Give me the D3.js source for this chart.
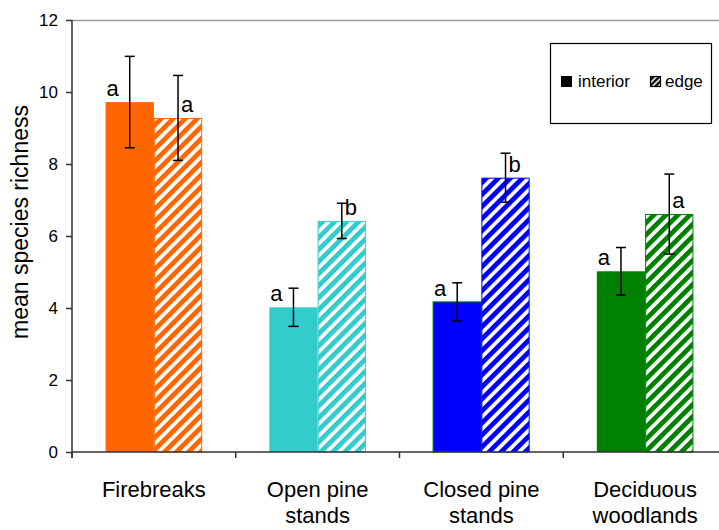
<!DOCTYPE html>
<html>
<head>
<meta charset="utf-8">
<script src="https://cdn.jsdelivr.net/npm/d3@7"></script>
<style>
  body { margin: 0; background: #fff; }
  text { font-family: "Liberation Sans", Arial, sans-serif; fill: #000; }
</style>
</head>
<body>
<svg id="chart" width="719" height="530"></svg>
<script>
// data
var categories = [["Firebreaks"], ["Open pine", "stands"], ["Closed pine", "stands"], ["Deciduous", "woodlands"]];
var colors = ["#ff6600", "#33cccc", "#0000ff", "#008000"];
var series = ["interior", "edge"];
var interiorMean = [9.72, 4.02, 4.17, 5.02];
var interiorErr = [1.27, 0.53, 0.53, 0.66];
var edgeMean = [9.28, 6.42, 7.62, 6.61];
var edgeErr = [1.18, 0.49, 0.68, 1.11];
var interiorLetters = ["a", "a", "a", "a"];
var edgeLetters = ["a", "b", "b", "a"];
var yTicks = [0, 2, 4, 6, 8, 10, 12];

var svg = d3.select("#chart"),
  margin = {top: 20, left: 72, bottom: 78, right: -8},
  width = +svg.attr("width") - margin.left - margin.right,
  height = +svg.attr("height") - margin.top - margin.bottom;

var x = d3.scaleBand()
  .domain(d3.range(categories.length))
  .range([margin.left, margin.left + width])
  .paddingInner(0).paddingOuter(0);

var groupW = x.bandwidth() * 0.59;
var x1 = d3.scaleBand()
  .domain(series)
  .range([0, groupW]);

var y = d3.scaleLinear()
  .domain([0, 12])
  .range([margin.top + height, margin.top]);

// hatch patterns, one per colour
var defs = svg.append("defs");
colors.forEach(function(c, i){
  var p = defs.append("pattern")
    .attr("id", "hatch" + i)
    .attr("patternUnits", "userSpaceOnUse")
    .attr("width", 8.5).attr("height", 8.5)
    .attr("patternTransform", "rotate(45)");
  p.append("rect").attr("width", 8.5).attr("height", 8.5).attr("fill", "#fff");
  p.append("rect").attr("width", 4.8).attr("height", 8.5).attr("fill", c);
});
var lg = defs.append("pattern")
  .attr("id", "hatchLegend")
  .attr("patternUnits", "userSpaceOnUse")
  .attr("width", 4).attr("height", 4)
  .attr("patternTransform", "rotate(45)");
lg.append("rect").attr("width", 4).attr("height", 4).attr("fill", "#fff");
lg.append("rect").attr("width", 2.4).attr("height", 4).attr("fill", "#000");

// plot area top border
svg.append("line")
  .attr("x1", margin.left).attr("x2", 719)
  .attr("y1", margin.top + 0.5).attr("y2", margin.top + 0.5)
  .attr("stroke", "#999").attr("stroke-width", 1.5);

var rows = categories.map(function(c, i){
  return {i: i, im: interiorMean[i], ie: interiorErr[i], em: edgeMean[i], ee: edgeErr[i],
          il: interiorLetters[i], el: edgeLetters[i]};
});

var g = svg.append("g");

// interior bars
g.selectAll(".interior")
  .data(rows).enter().append("rect")
  .attr("class", "interior")
  .attr("x", d => x(d.i) + (x.bandwidth() - groupW) / 2 + x1("interior"))
  .attr("y", d => y(d.im))
  .attr("width", x1.bandwidth())
  .attr("height", d => y(0) - y(d.im))
  .attr("fill", d => colors[d.i])
  .attr("stroke", d => d.i == 2 ? "#008000" : "none")
  .attr("stroke-width", 1);

// edge bars
g.selectAll(".edge")
  .data(rows).enter().append("rect")
  .attr("class", "edge")
  .attr("x", d => x(d.i) + (x.bandwidth() - groupW) / 2 + x1("edge") + 0.5)
  .attr("y", d => y(d.em) + 0.5)
  .attr("width", x1.bandwidth() - 1)
  .attr("height", d => y(0) - y(d.em) - 0.5)
  .attr("fill", d => "url(#hatch" + d.i + ")")
  .attr("stroke", d => colors[d.i])
  .attr("stroke-width", 1);

// error bars
function errBars(cls, key, mKey, eKey){
  var cx = d => x(d.i) + (x.bandwidth() - groupW) / 2 + x1(key) + x1.bandwidth() / 2;
  var eg = g.selectAll("." + cls).data(rows).enter().append("g")
    .attr("class", cls)
    .attr("stroke", "#000").attr("stroke-width", 1.5);
  eg.append("line")
    .attr("x1", cx).attr("x2", cx)
    .attr("y1", d => y(d[mKey] + d[eKey])).attr("y2", d => y(d[mKey] - d[eKey]));
  eg.append("line")
    .attr("x1", d => cx(d) - 5).attr("x2", d => cx(d) + 5)
    .attr("y1", d => y(d[mKey] + d[eKey])).attr("y2", d => y(d[mKey] + d[eKey]));
  eg.append("line")
    .attr("x1", d => cx(d) - 5).attr("x2", d => cx(d) + 5)
    .attr("y1", d => y(d[mKey] - d[eKey])).attr("y2", d => y(d[mKey] - d[eKey]));
}
errBars("errI", "interior", "im", "ie");
errBars("errE", "edge", "em", "ee");

// significance letters
g.selectAll(".letI")
  .data(rows).enter().append("text")
  .attr("x", d => x(d.i) + (x.bandwidth() - groupW) / 2 + x1("interior") + 7)
  .attr("y", d => y(d.im) - 6)
  .attr("text-anchor", "middle")
  .style("font-size", "22px")
  .text(d => d.il);
g.selectAll(".letE")
  .data(rows).enter().append("text")
  .attr("x", d => x(d.i) + (x.bandwidth() - groupW) / 2 + x1("edge") + x1.bandwidth() / 2 + 9)
  .attr("y", d => y(d.em) - 6)
  .attr("text-anchor", "middle")
  .style("font-size", "22px")
  .text(d => d.el);

// y axis
var yAxis = svg.append("g")
  .attr("transform", "translate(" + margin.left + ",0)")
  .call(d3.axisLeft(y).tickValues(yTicks).tickSize(6).tickPadding(8));
yAxis.select(".domain").attr("stroke", "#333").attr("stroke-width", 1.5)
  .attr("d", "M0," + (y(0) + 6) + "V" + y(12));
yAxis.selectAll(".tick line").attr("stroke", "#333").attr("stroke-width", 1.5);
yAxis.selectAll(".tick text").style("font-size", "17px")
  .style("font-family", "'Liberation Sans', Arial, sans-serif").attr("fill", "#000");

// x axis
var xAxis = svg.append("g")
  .attr("transform", "translate(0," + y(0) + ")");
xAxis.append("line")
  .attr("x1", margin.left).attr("x2", 719)
  .attr("stroke", "#333").attr("stroke-width", 1.5);
xAxis.selectAll(".xt")
  .data(d3.range(categories.length + 1)).enter().append("line")
  .attr("x1", i => margin.left + i * x.bandwidth())
  .attr("x2", i => margin.left + i * x.bandwidth())
  .attr("y1", 0).attr("y2", 6)
  .attr("stroke", "#333").attr("stroke-width", 1.5);

var labels = svg.selectAll(".cat")
  .data(categories).enter().append("text")
  .attr("class", "cat")
  .attr("text-anchor", "middle")
  .style("font-size", "22px")
  .attr("y", 497);
labels.selectAll("tspan")
  .data((d, i) => d.map(s => ({s: s, i: i})))
  .enter().append("tspan")
  .attr("x", d => x(d.i) + x.bandwidth() / 2)
  .attr("dy", (d, j) => j == 0 ? 0 : 26)
  .text(d => d.s);

// y axis title
svg.append("text")
  .attr("transform", "translate(28,222) rotate(-90)")
  .attr("text-anchor", "middle")
  .style("font-size", "23px")
  .text("mean species richness");

// legend
var leg = svg.append("g").attr("transform", "translate(550,43)");
leg.append("rect")
  .attr("x", 0.5).attr("y", 0.5).attr("width", 161).attr("height", 80)
  .attr("fill", "#fff").attr("stroke", "#000").attr("stroke-width", 1.2);
leg.append("rect")
  .attr("x", 11).attr("y", 33).attr("width", 11).attr("height", 11)
  .attr("fill", "#000");
leg.append("text")
  .attr("x", 28).attr("y", 44)
  .style("font-size", "17px")
  .text(series[0]);
leg.append("rect")
  .attr("x", 100.5).attr("y", 33.5).attr("width", 10).attr("height", 10)
  .attr("fill", "url(#hatchLegend)").attr("stroke", "#000").attr("stroke-width", 1.2);
leg.append("text")
  .attr("x", 115).attr("y", 44)
  .style("font-size", "17px")
  .text(series[1]);
</script>
</body>
</html>
